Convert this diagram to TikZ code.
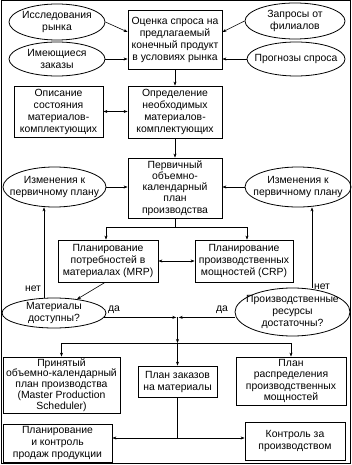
\documentclass[tikz,border=0pt]{standalone}
\usepackage{fontspec}
\setmainfont{Liberation Sans}
\usetikzlibrary{arrows.meta,shapes.geometric,calc}
\begin{document}
\begin{tikzpicture}[x=1pt,y=-1pt,
  font=\fontsize{10.4}{12}\selectfont,
  every node/.style={inner sep=0pt, align=center},
  bx/.style={draw, line width=0.8pt, rectangle},
  el/.style={draw, line width=0.8pt, ellipse, inner sep=-25pt},
  arr/.style={line width=0.6pt, -{Stealth[length=4pt,width=3pt]}},
  darr/.style={line width=0.6pt, {Stealth[length=4pt,width=3pt]}-{Stealth[length=4pt,width=3pt]}},
  ln/.style={line width=0.6pt}]
\useasboundingbox (0,0) rectangle (352,465);
\draw[line width=1pt] (1,1) rectangle (350.5,463.5);

% top row
\node[el, minimum width=96pt, minimum height=36pt] (r1) at (57,22) {Исследования\\рынка};
\node[el, minimum width=96pt, minimum height=34pt] (r2) at (57,59) {Имеющиеся\\заказы};
\node[bx, minimum width=94pt, minimum height=59pt] (est) at (175,39.5) {Оценка спроса на\\предлагаемый\\конечный продукт\\в условиях рынка};
\node[el, minimum width=100pt, minimum height=36pt] (zap) at (295,21) {Запросы от\\филиалов};
\node[el, minimum width=98pt, minimum height=34pt] (prog) at (296,59) {Прогнозы спроса};

% second row
\node[bx, minimum width=89pt, minimum height=51pt] (opis) at (58.5,111.5) {Описание\\состояния\\материалов-\\комплектующих};
\node[bx, minimum width=94pt, minimum height=52pt] (opr) at (175,112) {Определение\\необходимых\\материалов-\\комплектующих};

% third row
\node[bx, minimum width=94pt, minimum height=60pt, font=\fontsize{10.4}{11.2}\selectfont] (perv) at (175,188) {Первичный\\объемно-\\календарный\\план\\производства};
\node[el, minimum width=103pt, minimum height=40pt] (izmL) at (54.5,187) {Изменения к\\первичному плану};
\node[el, minimum width=106pt, minimum height=40pt] (izmR) at (298,187) {Изменения к\\первичному плану};

% MRP / CRP
\node[bx, minimum width=100pt, minimum height=42pt] (mrp) at (108,261) {Планирование\\потребностей в\\материалах (MRP)};
\node[bx, minimum width=98pt, minimum height=42pt] (crp) at (244,261) {Планирование\\производственных\\мощностей (CRP)};

% decisions
\node[el, minimum width=104pt, minimum height=30pt] (mat) at (54,313) {Материалы\\доступны?};
\node[el, minimum width=115pt, minimum height=48pt] (res) at (292.5,312) {Производственные\\ресурсы\\достаточны?};

% outputs
\node[bx, minimum width=117pt, minimum height=56pt, font=\fontsize{10.4}{10.8}\selectfont] (mps) at (61.5,385) {Принятый\\объемно-календарный\\план производства\\(Master Production\\Scheduler)};
\node[bx, minimum width=79pt, minimum height=31pt] (ord) at (177.5,381.5) {План заказов\\на материалы};
\node[bx, minimum width=110pt, minimum height=48pt, font=\fontsize{10.4}{11.2}\selectfont] (dist) at (291,381) {План\\распределения\\производственных\\мощностей};
\node[bx, minimum width=109pt, minimum height=38pt] (sales) at (57.5,443) {Планирование\\и контроль\\продаж продукции};
\node[bx, minimum width=100pt, minimum height=38pt] (ctrl) at (295,441) {Контроль за\\производством};

% labels
\node (n1) at (33,289) {нет};
\node (n2) at (322,287) {нет};
\node (y1) at (114,310) {да};
\node (y2) at (222,310) {да};

% connectors top
\draw[arr] (r1.east) -- ([yshift=7.5pt]est.west);
\draw[arr] (r2.east) -- (r2.east -| est.west);
\draw[arr] (zap.west) -- ([yshift=7.5pt]est.east);
\draw[arr] (prog.west) -- (prog.west -| est.east);
\draw[arr] (est.south) -- (opr.north);
\draw[darr] (opis.east) -- (opis.east -| opr.west);
\draw[arr] (opr.south) -- (perv.north);
\draw[arr] (izmL.east) -- (izmL.east -| perv.west);
\draw[arr] (izmR.west) -- (izmR.west -| perv.east);

% split to MRP/CRP
\coordinate (s1) at (175,227);
\draw[ln] (perv.south) -- (s1);
\draw[arr] (s1) -| ([xshift=-2pt]mrp.north);
\draw[arr] (s1) -| ([xshift=3pt]crp.north);
\draw[darr] (mrp.east) -- (crp.west);
\draw[arr] ([xshift=-3pt]mrp.south) -- (mat);

% feedback "нет"
\coordinate (xl) at (44,0);
\coordinate (xr) at (312,0);
\draw[arr] (mat.north -| xl) -- (izmL.south -| xl);
\draw[arr] (res.north -| xr) -- (izmR.south -| xr);

% "да" junction
\coordinate (jx) at (177.5,0);
\coordinate (j) at (mat.-5 -| jx);
\draw[arr] (mat.-5) -- ([xshift=-1.2pt]j);
\draw[arr] (j -| res.west) -- ([xshift=1.2pt]j);
\coordinate (bus) at (177.5,343);
\draw[arr] (j) -- (bus);
\draw[arr] (bus) -| (mps.north);
\draw[arr] (bus) -| (dist.north);
\draw[arr] (bus) -- (ord.north);

% bottom split
\coordinate (b2) at (177.5,438);
\draw[ln] (ord.south) -- (b2);
\draw[arr] (b2) -- (b2 -| sales.east);
\draw[arr] (b2) -- (b2 -| ctrl.west);
\end{tikzpicture}
\end{document}
